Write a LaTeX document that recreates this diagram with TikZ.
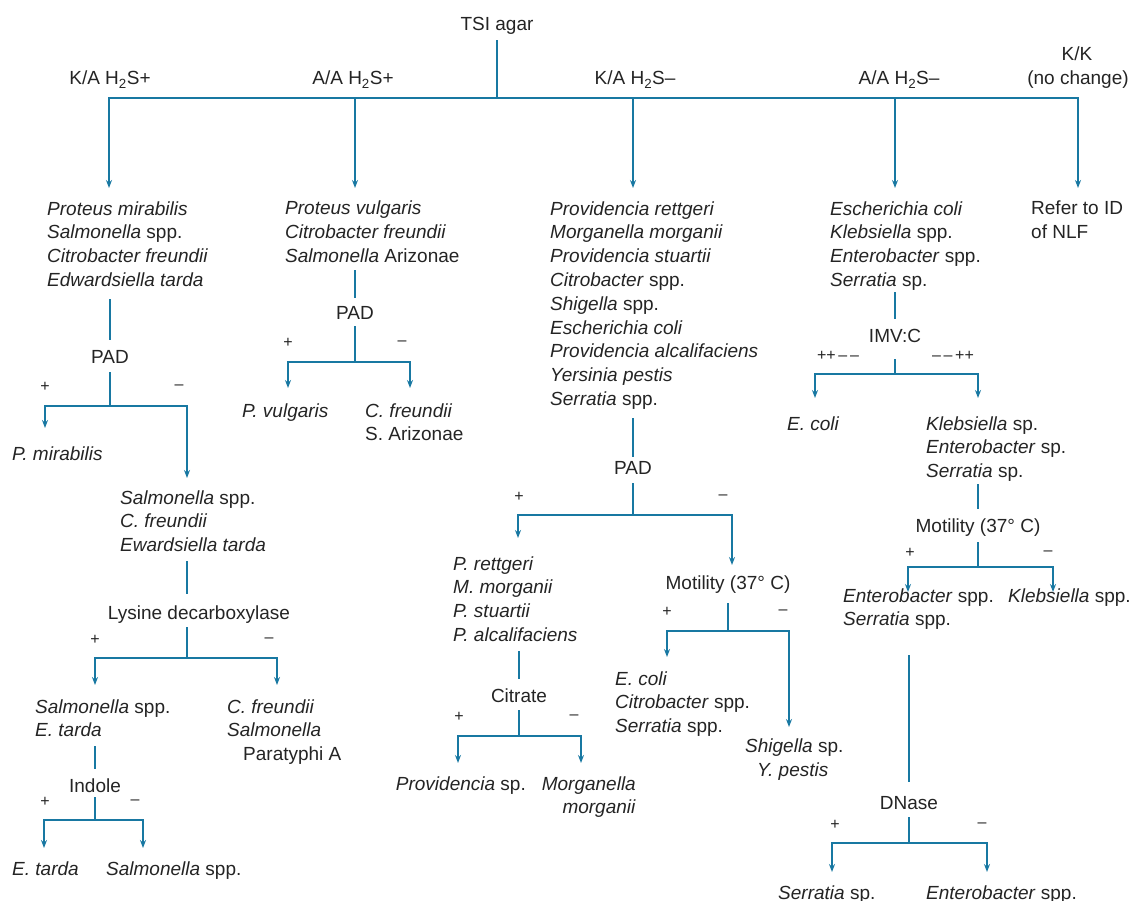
\documentclass[tikz,border=0pt]{standalone}
\usepackage{fontspec}
\setmainfont{Liberation Sans}
\usetikzlibrary{arrows.meta}
\definecolor{ln}{RGB}{24,120,162}
\definecolor{tx}{RGB}{36,36,36}
\newcommand\fsz{\fontsize{19}{23.8}\selectfont}
\newcommand\fsm{\fontsize{16}{18}\selectfont}
\begin{document}
\begin{tikzpicture}[x=1pt,y=-1pt,
  t/.style={inner sep=0pt, font=\fsz, text=tx, align=left, anchor=base west},
  c/.style={inner sep=0pt, font=\fsz, text=tx, anchor=base},
  sg/.style={inner sep=0pt, font=\fsm, text=tx, anchor=center},
  br/.style={draw=ln, line width=2.4pt, line cap=rect},
  ar/.style={draw=ln, line width=1.8pt, -{Stealth[length=8pt,width=6pt]}},
  ]
\useasboundingbox (0,0) rectangle (1134,901);

% ---------- top ----------
\node[c] (tsi) at (497,31) {TSI agar};
\coordinate (root) at (497,98);
\node[c] (h1) at (110,85) {K/A H\textsubscript{2}S+};
\node[c] (h2) at (353,85) {A/A H\textsubscript{2}S+};
\node[c] (h3) at (635,85) {K/A H\textsubscript{2}S–};
\node[c] (h4) at (899,85) {A/A H\textsubscript{2}S–};
\node[c] (kk) at (1077,61) {K/K};
\node[c] (nc) at (1078,85) {(no change)};
\coordinate (d1) at (109,188);
\coordinate (d2) at (355,188);
\coordinate (d3) at (633,188);
\coordinate (d4) at (895,188);
\coordinate (d5) at (1078,188);
\draw[br, shorten <=6pt] (root |- tsi.south) -- (root);
\draw[br] (d1 |- root) -- (d5 |- root);
\foreach \d in {d1,d2,d3,d4,d5} \draw[ar] (\d |- root) -- (\d);

% ---------- column 1 ----------
\node[t] (l1) at (47,286.4) {\textit{Proteus mirabilis}\\\textit{Salmonella} spp.\\\textit{Citrobacter freundii}\\\textit{Edwardsiella tarda}};
\node[c] (pad1) at (110,363) {PAD};
\node[sg] (p1) at (45,387) {+};
\node[sg] (m1) at (179,387) {–};
\coordinate (j1) at (110,406);
\coordinate (a1L) at (45,428);
\coordinate (a1R) at (187,478);
\node[t] (pmir) at (12,460) {\textit{P. mirabilis}};
\node[t] (sal1) at (120,551.6) {\textit{Salmonella} spp.\\\textit{C. freundii}\\\textit{Ewardsiella tarda}};
\draw[br, shorten <=13pt, shorten >=11pt] (j1 |- l1.south) -- (j1 |- pad1.north);
\draw[br, shorten <=10pt] (j1 |- pad1.south) -- (j1);
\draw[br] (a1L |- j1) -- (a1R |- j1);
\draw[ar] (a1L |- j1) -- (a1L);
\draw[ar] (a1R |- j1) -- (a1R);

\node[c] (lys) at (199,619) {Lysine decarboxylase};
\node[sg] (p2) at (95,640) {+};
\node[sg] (m2) at (269,640) {–};
\coordinate (j2) at (187,658);
\coordinate (a2L) at (95,685);
\coordinate (a2R) at (277,685);
\node[t] (salE) at (35,736.8) {\textit{Salmonella} spp.\\\textit{E. tarda}};
\node[t] (cfsp) at (227,760.6) {\textit{C. freundii}\\\textit{Salmonella}\\\hspace*{16pt}Paratyphi A};
\draw[br, shorten <=10pt, shorten >=12pt] (j2 |- sal1.south) -- (j2 |- lys.north);
\draw[br, shorten <=5pt] (j2 |- lys.south) -- (j2);
\draw[br] (a2L |- j2) -- (a2R |- j2);
\draw[ar] (a2L |- j2) -- (a2L);
\draw[ar] (a2R |- j2) -- (a2R);

\node[c] (ind) at (95,792) {Indole};
\node[sg] (p3) at (45,802) {+};
\node[sg] (m3) at (135,802) {–};
\coordinate (j3) at (95,820);
\coordinate (a3L) at (44,848);
\coordinate (a3R) at (143,848);
\node[t] (etar) at (12,875) {\textit{E. tarda}};
\node[t] (salS) at (106,875) {\textit{Salmonella} spp.};
\draw[br, shorten <=10pt, shorten >=10pt] (j3 |- salE.south) -- (j3 |- ind.north);
\draw[br, shorten <=6pt] (j3 |- ind.south) -- (j3);
\draw[br] (a3L |- j3) -- (a3R |- j3);
\draw[ar] (a3L |- j3) -- (a3L);
\draw[ar] (a3R |- j3) -- (a3R);

% ---------- column 2 ----------
\node[t] (l2) at (285,262.6) {\textit{Proteus vulgaris}\\\textit{Citrobacter freundii}\\\textit{Salmonella} Arizonae};
\node[c] (pad2) at (355,319) {PAD};
\node[sg] (p4) at (288,343) {+};
\node[sg] (m4) at (402,343) {–};
\coordinate (j4) at (355,362);
\coordinate (a4L) at (288,388);
\coordinate (a4R) at (410,388);
\node[t] (pvul) at (242,417) {\textit{P. vulgaris}};
\node[t] (cfsa) at (365,440.8) {\textit{C. freundii}\\S. Arizonae};
\draw[br, shorten <=8pt, shorten >=9pt] (j4 |- l2.south) -- (j4 |- pad2.north);
\draw[br, shorten <=8pt] (j4 |- pad2.south) -- (j4);
\draw[br] (a4L |- j4) -- (a4R |- j4);
\draw[ar] (a4L |- j4) -- (a4L);
\draw[ar] (a4R |- j4) -- (a4R);

% ---------- column 3 ----------
\node[t] (l3) at (550,405.4) {\textit{Providencia rettgeri}\\\textit{Morganella morganii}\\\textit{Providencia stuartii}\\\textit{Citrobacter} spp.\\\textit{Shigella} spp.\\\textit{Escherichia coli}\\\textit{Providencia alcalifaciens}\\\textit{Yersinia pestis}\\\textit{Serratia} spp.};
\node[c] (pad3) at (633,474) {PAD};
\node[sg] (p5) at (519,497) {+};
\node[sg] (m5) at (723,497) {–};
\coordinate (j5) at (633,515);
\coordinate (a5L) at (518,538);
\coordinate (a5R) at (732,565);
\node[t] (prov) at (453,641.4) {\textit{P. rettgeri}\\\textit{M. morganii}\\\textit{P. stuartii}\\\textit{P. alcalifaciens}};
\node[c] (mot1) at (728,589) {Motility (37° C)};
\draw[br, shorten <=10pt, shorten >=5pt] (j5 |- l3.south) -- (j5 |- pad3.north);
\draw[br, shorten <=10pt] (j5 |- pad3.south) -- (j5);
\draw[br] (a5L |- j5) -- (a5R |- j5);
\draw[ar] (a5L |- j5) -- (a5L);
\draw[ar] (a5R |- j5) -- (a5R);

\node[c] (cit) at (519,702) {Citrate};
\node[sg] (p6) at (459,717) {+};
\node[sg] (m6) at (574,717) {–};
\coordinate (j6) at (519,736);
\coordinate (a6L) at (458,763);
\coordinate (a6R) at (581,763);
\node[t, anchor=base east] (provsp) at (526,790) {\textit{Providencia} sp.};
\node[t, anchor=base east, align=right] (morg) at (636,813.8) {\textit{Morganella}\\\textit{morganii}};
\draw[br, shorten <=10pt, shorten >=10pt] (j6 |- prov.south) -- (j6 |- cit.north);
\draw[br, shorten <=9pt] (j6 |- cit.south) -- (j6);
\draw[br] (a6L |- j6) -- (a6R |- j6);
\draw[ar] (a6L |- j6) -- (a6L);
\draw[ar] (a6R |- j6) -- (a6R);

\node[sg] (p7) at (667,612) {+};
\node[sg] (m7) at (783,612) {–};
\coordinate (j7) at (728,631);
\coordinate (a7L) at (667,657);
\coordinate (a7R) at (789,727);
\node[t] (ecs) at (615,732.6) {\textit{E. coli}\\\textit{Citrobacter} spp.\\\textit{Serratia} spp.};
\node[t] (shy) at (745,776) {\textit{Shigella} sp.\\\hspace*{12pt}\textit{Y. pestis}};
\draw[br, shorten <=11pt] (j7 |- mot1.south) -- (j7);
\draw[br] (a7L |- j7) -- (a7R |- j7);
\draw[ar] (a7L |- j7) -- (a7L);
\draw[ar] (a7R |- j7) -- (a7R);

% ---------- column 4 ----------
\node[t] (l4) at (830,286.4) {\textit{Escherichia coli}\\\textit{Klebsiella} spp.\\\textit{Enterobacter} spp.\\\textit{Serratia} sp.};
\node[c] (imv) at (895,342) {IMV:C};
\node[sg] (p8) at (838,356) {++\,–\,–};
\node[sg] (m8) at (953,356) {–\,–\,++};
\coordinate (j8) at (895,374);
\coordinate (a8L) at (815,398);
\coordinate (a8R) at (978,398);
\node[t] (ecoli2) at (787,430) {\textit{E. coli}};
\node[t] (kes) at (926,477.6) {\textit{Klebsiella} sp.\\\textit{Enterobacter} sp.\\\textit{Serratia} sp.};
\draw[br, shorten <=3pt, shorten >=11pt] (j8 |- l4.south) -- (j8 |- imv.north);
\draw[br, shorten <=18pt] (j8 |- imv.south) -- (j8);
\draw[br] (a8L |- j8) -- (a8R |- j8);
\draw[ar] (a8L |- j8) -- (a8L);
\draw[ar] (a8R |- j8) -- (a8R);

\node[c] (mot2) at (978,532) {Motility (37° C)};
\node[sg] (p9) at (910,553) {+};
\node[sg] (m9) at (1048,553) {–};
\coordinate (j9) at (978,567);
\coordinate (a9L) at (908,592);
\coordinate (a9R) at (1053,592);
\node[t] (ens) at (843,625.8) {\textit{Enterobacter} spp.\\\textit{Serratia} spp.};
\node[t] (kle) at (1008,602) {\textit{Klebsiella} spp.};
\draw[br, shorten <=3pt, shorten >=10pt] (j9 |- kes.south) -- (j9 |- mot2.north);
\draw[br, shorten <=7pt] (j9 |- mot2.south) -- (j9);
\draw[br] (a9L |- j9) -- (a9R |- j9);
\draw[ar] (a9L |- j9) -- (a9L);
\draw[ar] (a9R |- j9) -- (a9R);

\node[c] (dna) at (909,809) {DNase};
\node[sg] (p10) at (835,825) {+};
\node[sg] (m10) at (982,825) {–};
\coordinate (j10) at (909,843);
\coordinate (a10L) at (832,872);
\coordinate (a10R) at (987,872);
\node[t] (ser) at (778,899) {\textit{Serratia} sp.};
\node[t] (ent) at (926,899) {\textit{Enterobacter} spp.};
\draw[br, shorten <=26pt, shorten >=15pt] (j10 |- ens.south) -- (j10 |- dna.north);
\draw[br, shorten <=9pt] (j10 |- dna.south) -- (j10);
\draw[br] (a10L |- j10) -- (a10R |- j10);
\draw[ar] (a10L |- j10) -- (a10L);
\draw[ar] (a10R |- j10) -- (a10R);

% ---------- column 5 ----------
\node[t] (nlf) at (1031,238.8) {Refer to ID\\of NLF};
\end{tikzpicture}
\end{document}
